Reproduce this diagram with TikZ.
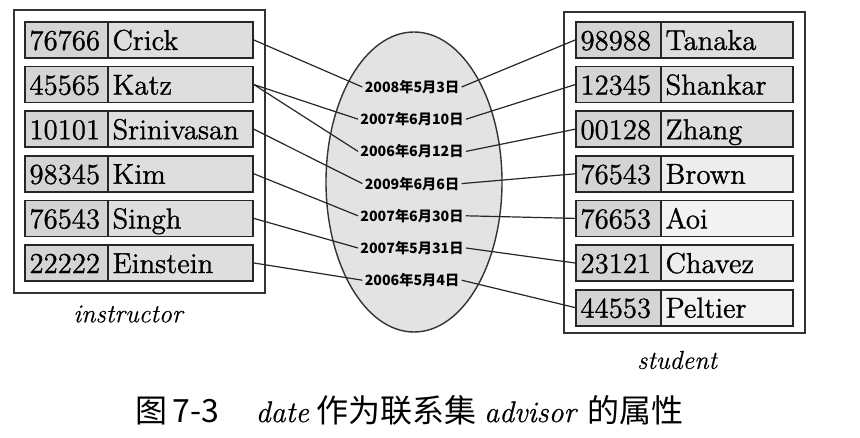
\documentclass[tikz,border=0pt]{standalone}
\usepackage{fontspec}
\newfontfamily\cjk{Noto Sans CJK SC}
\newfontfamily\rowfont{lmroman12-regular.otf}[FakeBold=1]
\newfontfamily\capit{lmroman12-italic.otf}[FakeBold=0.6]
\newfontfamily\labit{lmroman12-italic.otf}[FakeBold=0.3]
\usetikzlibrary{shapes.geometric}
\begin{document}
\begin{tikzpicture}[x=0.5pt,y=-0.5pt,
  outerbox/.style={draw=black!80,line width=0.7pt},
  idcell/.style={draw=black!85,line width=0.9pt,fill=black!17,minimum height=18pt,inner sep=0pt},
  namecell/.style={draw=black!85,line width=0.9pt,fill=black!13,minimum height=18pt,inner sep=0pt},
  rowtext/.style={font=\rowfont\fontsize{14.4}{16}\selectfont},
  datetext/.style={font=\cjk\bfseries\fontsize{7.1}{8}\selectfont,inner sep=1pt},
  setlabel/.style={font=\labit\fontsize{13}{15}\selectfont},
  link/.style={draw=black!85,line width=0.6pt}]
\useasboundingbox (0,0) rectangle (860,438);
% outer boxes
\draw[outerbox] (14,10) rectangle (265,293);
\draw[outerbox] (564,12) rectangle (805,333);
% ellipse
\node[ellipse,draw=black!80,line width=0.7pt,fill=black!11,minimum width=88pt,minimum height=150pt,inner sep=0pt] (ell) at (414,182) {};
% instructor rows
\foreach \id/\nm [count=\i from 1] in {76766/Crick,45565/Katz,10101/Srinivasan,98345/Kim,76543/Singh,22222/Einstein}{
  \pgfmathsetmacro{\yy}{40+44.6*(\i-1)}
  \node[idcell,minimum width=41.5pt] (li\i) at (66.5,\yy) {};
  \node[namecell,minimum width=72.5pt] (ln\i) at (180.5,\yy) {};
  \node[rowtext,anchor=base west,inner sep=0pt] (lit\i) at ([xshift=2.5pt,yshift=-5pt]li\i.west) {\id};
  \node[rowtext,anchor=base west,inner sep=0pt] (lnt\i) at ([xshift=2.5pt,yshift=-5pt]ln\i.west) {\nm};
}
% student rows
\foreach \id/\nm/\f [count=\i from 1] in {98988/Tanaka/13,12345/Shankar/13,00128/Zhang/13,76543/Brown/7,76653/Aoi/5,23121/Chavez/7,44553/Peltier/5}{
  \pgfmathsetmacro{\yy}{40+44.6*(\i-1)}
  \node[idcell,minimum width=42.5pt] (ri\i) at (618.5,\yy) {};
  \node[namecell,minimum width=66pt,fill=black!\f] (rn\i) at (727,\yy) {};
  \node[rowtext,anchor=base west,inner sep=0pt] (rit\i) at ([xshift=2.5pt,yshift=-5pt]ri\i.west) {\id};
  \node[rowtext,anchor=base west,inner sep=0pt] (rnt\i) at ([xshift=2.5pt,yshift=-5pt]rn\i.west) {\nm};
}
% dates
\foreach \d [count=\i from 1] in {2008年5月3日,2007年6月10日,2006年6月12日,2009年6月6日,2007年6月30日,2007年5月31日,2006年5月4日}{
  \pgfmathsetmacro{\yy}{87+32.2*(\i-1)}
  \node[datetext] (d\i) at (412,\yy) {\d};
}
% links
\draw[link] (ln1.east) -- (d1.west);
\draw[link] (ln2.east) -- (d2.west);
\draw[link] (ln2.east) -- (d3.west);
\draw[link] (ln3.east) -- (d4.west);
\draw[link] (ln4.east) -- (d5.west);
\draw[link] (ln5.east) -- (d6.west);
\draw[link] (ln6.east) -- (d7.west);
\foreach \i in {1,...,7}{
  \draw[link] (d\i.east) -- (ri\i.west);
}
% labels
\node[setlabel] (instr) at (128,314) {instructor};
\node[setlabel] (stud) at (677,360) {student};
\node[font=\cjk\fontsize{16}{18}\selectfont,inner sep=0pt] (cap) at (409.5,410)
  {图\hspace{3pt}7-3\hspace{18pt}{\capit\fontsize{15}{17}\selectfont date\/}\hspace{3.5pt}作为联系集\hspace{4pt}{\capit\fontsize{15}{17}\selectfont advisor}\hspace{6pt}的属性};
\end{tikzpicture}
\end{document}
